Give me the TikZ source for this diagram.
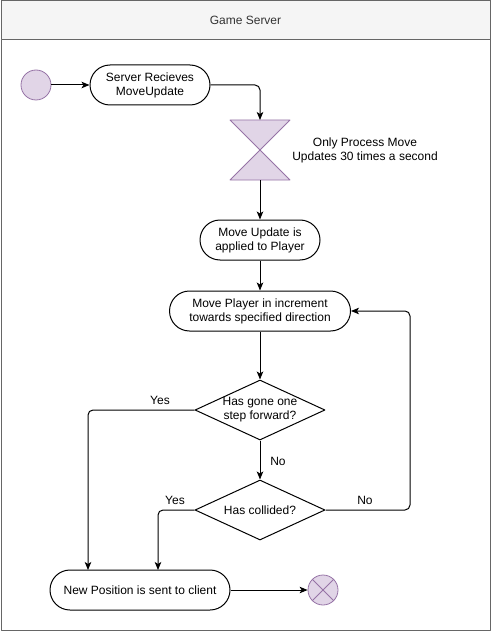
\documentclass[tikz,border=0pt]{standalone}
\usepackage{fontspec}
\setmainfont{Liberation Sans}
\usetikzlibrary{arrows.meta,shapes.geometric}

\definecolor{actfill}{HTML}{E1D5E7}
\definecolor{actline}{HTML}{9673A6}
\definecolor{headfill}{HTML}{F5F5F5}
\definecolor{headline}{HTML}{666666}
\definecolor{headtext}{HTML}{333333}

\tikzset{
  txt/.style={font=\fontsize{12bp}{14bp}\selectfont, align=center, inner sep=0pt},
  pill/.style={txt, draw, line width=1bp, minimum height=40bp, rounded corners=20bp},
  decision/.style={draw, diamond, line width=1bp, inner sep=0pt, minimum width=130bp, minimum height=60bp},
  state/.style={circle, draw=actline, fill=actfill, line width=0.8bp, minimum size=30bp, inner sep=0pt},
  flow/.style={->, line width=1bp, rounded corners=5bp},
}

\begin{document}
\begin{tikzpicture}[x=1bp,y=-1bp,>={Stealth[length=8bp,width=6.5bp,inset=2bp]},line join=round]
\useasboundingbox (0,0) rectangle (491,631);

% Frame: Game Server
\draw[headline, line width=1bp] (1,1) rectangle (490,630);
\draw[headline, fill=headfill, line width=1bp] (1,1) rectangle (490,40);
\node[txt, text=headtext] (title) at (245.5,20.5) {Game Server};

% Node: start
\node[state] (start) at (36,85) {};

% Node: recv
\node[pill, minimum width=120bp] (recv) at (150,85) {Server Recieves\\MoveUpdate};

% Node: throttle
\coordinate (hgtop) at (260,120);
\coordinate (hgbot) at (260,180);
\draw[actline, fill=actfill, line width=0.8bp] (230,120) -- (290,120) -- (230,180) -- (290,180) -- cycle;
\node[txt] (note) at (365,150) {Only Process Move\\Updates 30 times a second};

% Node: apply
\node[pill, minimum width=120bp] (apply) at (260,240) {Move Update is\\applied to Player};

% Node: step
\node[pill, minimum width=181bp] (step) at (260,311) {Move Player in increment\\towards specified direction};

% Node: forward
\node[decision] (fwd) at (260,410) {};
\node[txt] (fwdtxt) at (fwd) {Has gone one\\step forward?};

% Node: collide
\node[decision] (col) at (260,510) {};
\node[txt] (coltxt) at (col) {Has collided?};

% Node: send
\node[pill, minimum width=180bp] (send) at (140,590) {New Position is sent to client};

% Node: end
\node[state] (stop) at (323,590) {};
\draw[actline, line width=0.8bp] (stop.north west) -- (stop.south east);
\draw[actline, line width=0.8bp] (stop.north east) -- (stop.south west);

% Edge: start -> recv
\draw[flow] (start) -- (recv);

% Edge: recv -> throttle
\draw[flow] (recv.east) -| (hgtop);

% Edge: throttle -> apply
\draw[flow] (hgbot) -- (apply.north);

% Edge: apply -> step
\draw[flow] (apply.south) -- (step.north);

% Edge: step -> forward
\draw[flow] (step.south) -- (fwd.north);

% Edge: forward -> send (Yes)
\coordinate (yesA) at (88,570);
\draw[flow] (fwd.west) -| (yesA);
\node[txt] (yesAlbl) at (160,400) {Yes};

% Edge: forward -> collide (No)
\draw[flow] (fwd.south) -- (col.north);
\node[txt] (noAlbl) at (278,461) {No};

% Edge: collide -> send (Yes)
\coordinate (yesB) at (158,570);
\draw[flow] (col.west) -| (yesB);
\node[txt] (yesBlbl) at (175,500) {Yes};

% Edge: collide -> step (No)
\coordinate (loop) at (410,311);
\draw[flow] (col.east) -| (loop) -- (step.east);
\node[txt] (noBlbl) at (365,500) {No};

% Edge: send -> end
\draw[flow] (send.east) -- (stop.west);
\end{tikzpicture}
\end{document}
